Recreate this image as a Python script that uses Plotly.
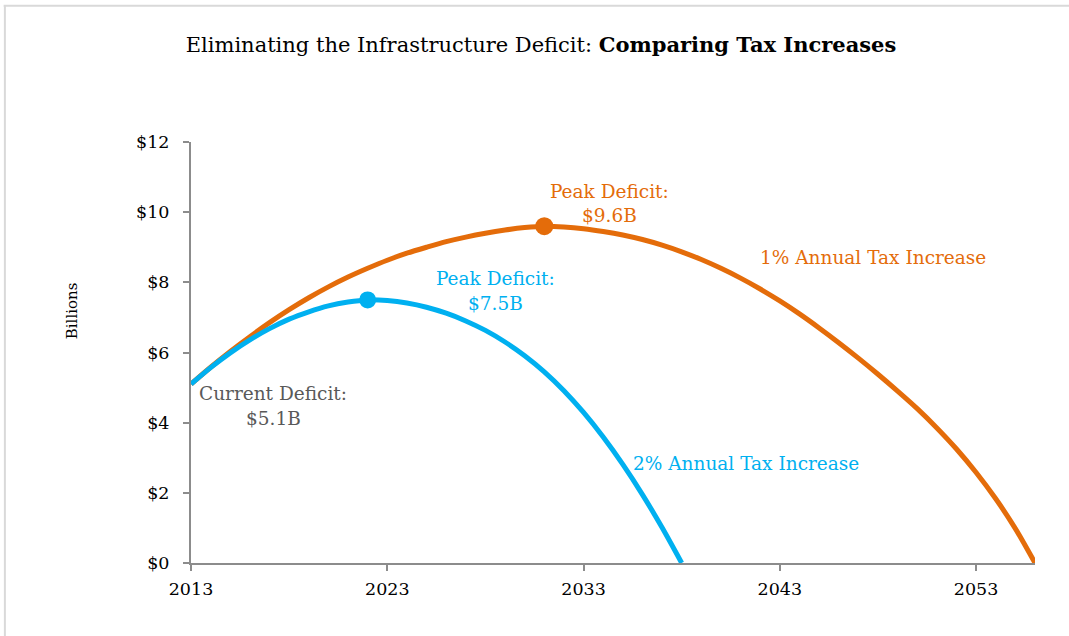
import plotly.graph_objects as go

# Projected infrastructure deficit ($ billions) by year
years_1pct = list(range(2013, 2057))
deficit_1pct = [
    5.10, 5.58, 6.03, 6.45, 6.85, 7.22, 7.56, 7.87, 8.15, 8.40,
    8.63, 8.83, 9.00, 9.16, 9.29, 9.40, 9.49, 9.56, 9.60, 9.58,
    9.53, 9.45, 9.35, 9.22, 9.06, 8.87, 8.65, 8.40, 8.12, 7.81,
    7.47, 7.10, 6.70, 6.28, 5.84, 5.38, 4.90, 4.40, 3.85, 3.25,
    2.58, 1.83, 0.98, 0.00,
]

years_2pct = list(range(2013, 2039))
deficit_2pct = [
    5.10, 5.57, 5.99, 6.36, 6.68, 6.95, 7.16, 7.33, 7.44, 7.50,
    7.48, 7.41, 7.29, 7.12, 6.90, 6.63, 6.30, 5.91, 5.45, 4.91,
    4.29, 3.59, 2.81, 1.95, 1.01, 0.00,
]

x_ticks = [2013, 2023, 2033, 2043, 2053]
y_ticks = [0, 2, 4, 6, 8, 10, 12]
y_tick_text = [f"${v}" for v in y_ticks]

ORANGE = "#E46C0A"
BLUE = "#00B0F0"
GREY_TEXT = "#595959"
AXIS_GREY = "#8C8C8C"
FONT = "DejaVu Serif"

peak_1 = max(deficit_1pct)
peak_1_year = years_1pct[deficit_1pct.index(peak_1)]
peak_2 = max(deficit_2pct)
peak_2_year = years_2pct[deficit_2pct.index(peak_2)]
current = deficit_1pct[0]

fig = go.Figure()

fig.add_trace(go.Scatter(
    x=years_1pct, y=deficit_1pct, mode="lines",
    line=dict(color=ORANGE, width=5, shape="spline", smoothing=0.8),
    hoverinfo="skip", showlegend=False,
))
fig.add_trace(go.Scatter(
    x=years_2pct, y=deficit_2pct, mode="lines",
    line=dict(color=BLUE, width=5, shape="spline", smoothing=0.8),
    hoverinfo="skip", showlegend=False,
))
fig.add_trace(go.Scatter(
    x=[peak_1_year], y=[peak_1], mode="markers",
    marker=dict(color=ORANGE, size=18), showlegend=False, hoverinfo="skip",
))
fig.add_trace(go.Scatter(
    x=[peak_2_year], y=[peak_2], mode="markers",
    marker=dict(color=BLUE, size=17), showlegend=False, hoverinfo="skip",
))

LABEL_SIZE = 18.5


def label(x, y, text, color):
    fig.add_annotation(
        x=x, y=y, xref="x", yref="y", text=text, showarrow=False,
        font=dict(family=FONT, size=LABEL_SIZE, color=color),
        xanchor="center", yanchor="middle",
    )


label(2034.3, 10.58, "Peak Deficit:", ORANGE)
label(2034.3, 9.90, f"${peak_1:.1f}B", ORANGE)
label(2028.5, 8.12, "Peak Deficit:", BLUE)
label(2028.5, 7.41, f"${peak_2:.1f}B", BLUE)
label(2017.2, 4.83, "Current Deficit:", GREY_TEXT)
label(2017.2, 4.11, f"${current:.1f}B", GREY_TEXT)
label(2047.75, 8.70, "1% Annual Tax Increase", ORANGE)
label(2041.3, 2.83, "2% Annual Tax Increase", BLUE)

# y-axis caption
fig.add_annotation(
    x=-0.140, y=0.60, xref="paper", yref="paper", text="Billions",
    showarrow=False, textangle=-90,
    font=dict(family=FONT, size=15, color="#000000"),
    xanchor="center", yanchor="middle",
)

# light frame lines along the top and left edges
fig.add_shape(type="line", xref="paper", yref="paper",
              x0=-0.222, x1=1.05, y0=1.3235, y1=1.3235,
              line=dict(color="#D9D9D9", width=2))
fig.add_shape(type="line", xref="paper", yref="paper",
              x0=-0.2205, x1=-0.2205, y0=-0.2, y1=1.3235,
              line=dict(color="#D9D9D9", width=2))

fig.update_layout(
    width=1069, height=636,
    margin=dict(l=191, r=34, t=142, b=73),
    paper_bgcolor="white", plot_bgcolor="white",
    font=dict(family=FONT, color="#000000"),
    title=dict(
        text="Eliminating the Infrastructure Deficit: <b>Comparing Tax Increases</b>",
        x=541 / 1069, xanchor="center", y=1 - 45 / 636, yanchor="middle",
        font=dict(family=FONT, size=21, color="#000000"),
    ),
    xaxis=dict(
        range=[2013, 2056], tickvals=x_ticks, showgrid=False, zeroline=False,
        showline=True, linecolor=AXIS_GREY, linewidth=2,
        ticks="outside", ticklen=6, tickwidth=1.5, tickcolor=AXIS_GREY,
        tickfont=dict(family=FONT, size=17.5, color="#000000"),
        ticklabelstandoff=3, fixedrange=True,
    ),
    yaxis=dict(
        range=[0, 12], tickvals=y_ticks, ticktext=y_tick_text, showgrid=False,
        zeroline=False, showline=True, linecolor=AXIS_GREY, linewidth=2,
        ticks="outside", ticklen=6, tickwidth=1.5, tickcolor=AXIS_GREY,
        tickfont=dict(family=FONT, size=17.5, color="#000000"),
        ticklabelstandoff=10, fixedrange=True,
    ),
)

fig.write_html("out.html")
